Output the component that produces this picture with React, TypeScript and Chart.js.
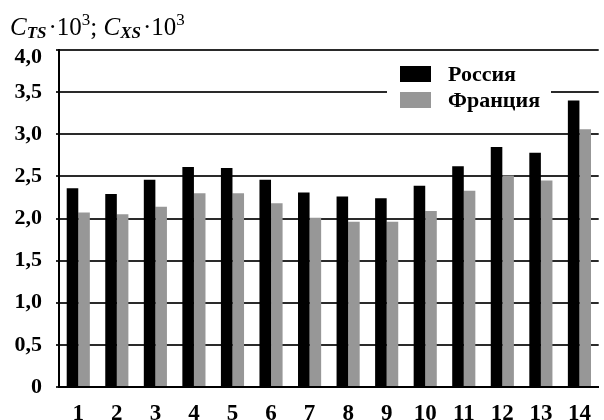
import React, { useEffect, useRef } from "react";
import { Chart, registerables } from "chart.js";

Chart.register(...registerables);

const categories = ["1", "2", "3", "4", "5", "6", "7", "8", "9", "10", "11", "12", "13", "14"];
const russia = [2.36, 2.29, 2.46, 2.61, 2.6, 2.46, 2.31, 2.26, 2.24, 2.39, 2.62, 2.85, 2.78, 3.4];
const france = [2.07, 2.05, 2.14, 2.3, 2.3, 2.18, 2.01, 1.96, 1.96, 2.09, 2.33, 2.51, 2.45, 3.06];
const seriesNames = ["Россия", "Франция"];
const seriesColors = ["#000000", "#979797"];
const yMax = 4;

const SERIF = '"Liberation Serif", "Times New Roman", serif';
const TICK_FONT = `bold 22px ${SERIF}`;

const fmt = (v: number) => (v === 0 ? "0" : v.toFixed(1).replace(".", ","));

// Axis caption: C_TS·10³; C_XS·10³ drawn piecewise with sub/superscripts
const captionPlugin = {
  id: "caption",
  afterDraw(chart: any) {
    const ctx = chart.ctx;
    ctx.save();
    ctx.fillStyle = "#000";
    ctx.textBaseline = "alphabetic";
    ctx.textAlign = "left";
    let x = 10;
    const base = 35;
    const part = (text: string, font: string, dy: number) => {
      ctx.font = font;
      ctx.fillText(text, x, base + dy);
      x += ctx.measureText(text).width;
    };
    const big = `25px ${SERIF}`;
    const bigI = `italic 25px ${SERIF}`;
    const small = `17px ${SERIF}`;
    const smallI = `italic bold 17px ${SERIF}`;
    part("C", bigI, 0);
    part("TS", smallI, 3);
    x += 2;
    part("·10", big, 0);
    part("3", small, -10);
    part("; ", big, 0);
    part("C", bigI, 0);
    part("XS", smallI, 3);
    x += 2;
    part("·10", big, 0);
    part("3", small, -10);

    // top tick label sits just below the top gridline
    const y = chart.scales.y;
    ctx.font = TICK_FONT;
    ctx.textAlign = "right";
    ctx.textBaseline = "middle";
    ctx.fillText(fmt(yMax), y.right - 17, y.getPixelForValue(yMax) + 7);
    ctx.restore();
  },
};

// Legend panel with white background over the grid
const legendPlugin = {
  id: "boxLegend",
  afterDatasetsDraw(chart: any) {
    const ctx = chart.ctx;
    ctx.save();
    ctx.fillStyle = "#ffffff";
    ctx.fillRect(387, 63, 164, 54);
    ctx.font = `bold 22px ${SERIF}`;
    ctx.textBaseline = "middle";
    ctx.textAlign = "left";
    chart.data.datasets.forEach((ds: any, i: number) => {
      const y = 74 + i * 26;
      ctx.fillStyle = ds.backgroundColor;
      ctx.fillRect(400, y - 8, 31, 16);
      ctx.fillStyle = "#000";
      ctx.fillText(ds.label, 448, y + 1);
    });
    ctx.restore();
  },
};

export default function App() {
  const ref = useRef<HTMLCanvasElement>(null);

  useEffect(() => {
    if (!ref.current) return;
    const chart = new Chart(ref.current, {
      type: "bar",
      data: {
        labels: categories,
        datasets: [
          { label: seriesNames[0], data: russia, backgroundColor: seriesColors[0] },
          { label: seriesNames[1], data: france, backgroundColor: seriesColors[1] },
        ],
      },
      options: {
        animation: false,
        responsive: false,
        layout: { padding: { top: 50, right: 2, left: 0, bottom: 0 } },
        datasets: { bar: { categoryPercentage: 0.6, barPercentage: 1.0 } },
        plugins: {
          legend: { display: false },
          tooltip: { enabled: false },
        },
        scales: {
          x: {
            grid: { display: false, drawTicks: false },
            border: { display: true, color: "#000", width: 2 },
            ticks: {
              color: "#000",
              font: { family: SERIF, size: 23, weight: "bold" },
              padding: 13,
              maxRotation: 0,
              autoSkip: false,
            },
            afterFit(scale: any) {
              scale.height = 33;
            },
          },
          y: {
            min: 0,
            max: yMax,
            ticks: {
              stepSize: 0.5,
              color: (c: any) => (c.tick && c.tick.value === yMax ? "rgba(0,0,0,0)" : "#000"),
              padding: 14,
              font: { family: SERIF, size: 22, weight: "bold" },
              callback: (v: any) => fmt(Number(v)),
            },
            grid: { color: "#2a2a2a", lineWidth: 2, drawTicks: true, tickLength: 3, tickColor: "#2a2a2a" },
            border: { display: true, color: "#000", width: 2 },
            afterFit(scale: any) {
              scale.width = 59;
            },
          },
        },
      },
      plugins: [captionPlugin, legendPlugin],
    });
    return () => chart.destroy();
  }, []);

  return (
    <div style={{ position: "absolute", left: 0, top: 0, width: 604, height: 420, background: "#fff" }}>
      <canvas ref={ref} width={604} height={420} style={{ display: "block" }} />
    </div>
  );
}
